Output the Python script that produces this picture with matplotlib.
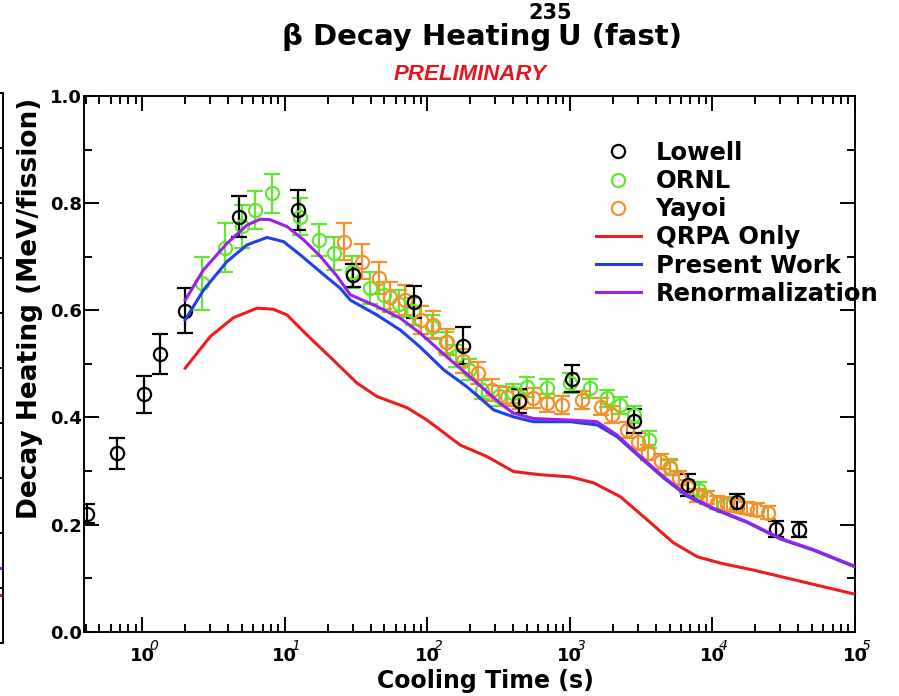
import matplotlib
matplotlib.use('Agg')
import matplotlib.pyplot as plt
from matplotlib.lines import Line2D
from matplotlib.ticker import FixedLocator, MultipleLocator, FormatStrFormatter, LogLocator, NullFormatter

plt.rcParams['font.family'] = ['DejaVu Sans']
plt.rcParams['font.weight'] = 'bold'

# Lowell measurements: cooling time (s), heating (MeV/fission), error
lowell_t = [0.41, 0.66, 1.03, 1.34, 2.0, 4.8, 12.4, 30, 80, 179, 442, 1042, 2836, 6790, 14960, 27700, 40200]
lowell_y = [0.220, 0.333, 0.443, 0.518, 0.599, 0.775, 0.787, 0.665, 0.615, 0.534, 0.431, 0.472, 0.393, 0.274, 0.243, 0.192, 0.190]
lowell_e = [0.018, 0.029, 0.035, 0.037, 0.042, 0.039, 0.038, 0.022, 0.030, 0.034, 0.022, 0.025, 0.023, 0.020, 0.014, 0.015, 0.014]

# ORNL measurements
ornl_t = [2.62, 3.78, 5.0, 6.21, 8.13, 12.8, 17.5, 22.3, 29.6, 39.8, 50, 63, 79, 108, 135, 160, 195,
          242, 320, 400, 501, 692, 1009, 1393, 1824, 2262, 2805, 3573, 5070, 8020, 12000]
ornl_y = [0.650, 0.717, 0.757, 0.787, 0.818, 0.775, 0.731, 0.706, 0.672, 0.641, 0.628, 0.612, 0.598, 0.569,
          0.540, 0.515, 0.489, 0.452, 0.440, 0.445, 0.457, 0.454, 0.464, 0.454, 0.436, 0.423, 0.405, 0.358,
          0.308, 0.265, 0.237]
ornl_e = [0.050, 0.045, 0.040, 0.036, 0.037, 0.035, 0.030, 0.030, 0.030, 0.030, 0.025, 0.025, 0.025, 0.022,
          0.020, 0.020, 0.020, 0.018, 0.018, 0.018, 0.018, 0.018, 0.018, 0.018, 0.016, 0.016, 0.016, 0.016,
          0.015, 0.014, 0.014]

# Yayoi measurements
yayoi_t = [25.9, 34.8, 45.5, 54.3, 70, 89.5, 110, 138, 179, 228, 286, 364, 450, 553, 695, 877, 1218, 1652,
           1982, 2513, 3018, 3544, 4322, 5074, 5870, 6650, 7760, 9150, 10750, 12700, 14900, 17600, 20600, 24400]
yayoi_y = [0.728, 0.691, 0.660, 0.625, 0.619, 0.582, 0.573, 0.541, 0.505, 0.483, 0.451, 0.439, 0.433, 0.436,
           0.427, 0.423, 0.433, 0.420, 0.405, 0.377, 0.355, 0.334, 0.318, 0.306, 0.287, 0.271, 0.255, 0.250,
           0.241, 0.238, 0.235, 0.231, 0.228, 0.222]
yayoi_e = [0.035, 0.032, 0.030, 0.028, 0.028, 0.026, 0.025, 0.024, 0.022, 0.020, 0.020, 0.018, 0.018, 0.018,
           0.017, 0.017, 0.017, 0.016, 0.016, 0.015, 0.015, 0.014, 0.014, 0.014, 0.013, 0.013, 0.012, 0.012,
           0.012, 0.012, 0.012, 0.012, 0.012, 0.012]

# calculations
qrpa_t = [2.0, 3.0, 4.35, 6.38, 8.3, 10.4, 14.3, 21.9, 32.1, 44.4, 72.1, 99.5, 171, 262, 402, 621, 1009,
          1462, 2259, 3483, 5321, 7816, 11380, 19410, 33420, 100000]
qrpa_y = [0.492, 0.551, 0.586, 0.604, 0.602, 0.591, 0.554, 0.507, 0.464, 0.439, 0.418, 0.395, 0.348, 0.327,
          0.299, 0.293, 0.289, 0.278, 0.252, 0.209, 0.166, 0.140, 0.128, 0.115, 0.100, 0.070]

present_t = [2.0, 2.69, 3.93, 5.43, 7.50, 9.82, 12.9, 17.7, 24.5, 28.8, 44.4, 64.7, 89.3, 130, 190, 292, 402,
             555, 1009, 1552, 2143, 3126, 4550, 6653, 10210, 17540, 29990, 51400, 100000]
present_y = [0.582, 0.638, 0.691, 0.722, 0.736, 0.728, 0.703, 0.672, 0.641, 0.619, 0.591, 0.563, 0.531, 0.489,
             0.457, 0.414, 0.401, 0.392, 0.392, 0.386, 0.364, 0.325, 0.287, 0.253, 0.229, 0.204, 0.173, 0.152,
             0.121]

renorm_t = [2.0, 2.68, 3.93, 5.43, 6.73, 7.91, 10.4, 13.6, 17.7, 23.2, 28.8, 44.4, 64.7, 89.3, 137, 211, 325,
            402, 555, 1009, 1549, 2143, 3126, 4550, 6653, 10210, 17540, 29990, 51400, 100000]
renorm_y = [0.619, 0.675, 0.725, 0.759, 0.770, 0.769, 0.756, 0.731, 0.701, 0.664, 0.629, 0.607, 0.585, 0.557,
            0.513, 0.470, 0.426, 0.408, 0.398, 0.395, 0.392, 0.367, 0.327, 0.289, 0.255, 0.230, 0.205, 0.174,
            0.153, 0.122]

# edge of the neighbouring panel
side_x = [0.0, 1.0]
side_renorm = [0.137, 0.137]
side_qrpa = [0.088, 0.088]

c_lowell = 'black'
c_ornl = '#62e630'
c_yayoi = '#f5902a'
c_qrpa = '#ee1c1c'
c_present = '#2040e8'
c_renorm = '#9a22e8'

W, H = 899, 696
fig = plt.figure(figsize=(W / 100, H / 100), dpi=100)

# neighbouring panel, mostly off the page
ax0 = fig.add_axes([-0.3, 1 - 643 / H, 0.3 + 2.5 / W, (643 - 93) / H])
ax0.plot(side_x, side_renorm, color=c_renorm, lw=2.2)
ax0.plot(side_x, side_qrpa, color=c_qrpa, lw=2.2)
ax0.set_xlim(0, 1)
ax0.set_ylim(0, 1)
ax0.yaxis.set_major_locator(MultipleLocator(0.1))
ax0.tick_params(left=False, right=True, bottom=False, labelleft=False, labelbottom=False,
                direction='in', length=5, width=1.4)
for s in ax0.spines.values():
    s.set_linewidth(1.4)

ax = fig.add_axes([84 / W, 1 - 631.7 / H, (855 - 84) / W, (631.7 - 96) / H])

eb = dict(fmt='o', mfc='none', ms=9.5, mew=1.6, elinewidth=1.6, capsize=6, capthick=1.6)
ax.errorbar(ornl_t, ornl_y, yerr=ornl_e, mec=c_ornl, ecolor=c_ornl, **eb)
ax.errorbar(yayoi_t, yayoi_y, yerr=yayoi_e, mec=c_yayoi, ecolor=c_yayoi, **eb)
ax.errorbar(lowell_t, lowell_y, yerr=lowell_e, mec=c_lowell, ecolor=c_lowell, **eb)

ax.plot(qrpa_t, qrpa_y, color=c_qrpa, lw=2.2, zorder=4)
ax.plot(present_t, present_y, color=c_present, lw=2.2, zorder=4)
ax.plot(renorm_t, renorm_y, color=c_renorm, lw=2.2, zorder=5)

ax.set_xscale('log')
ax.set_xlim(0.39, 1e5)
ax.set_ylim(0, 1.0)

decades = [1, 10, 100, 1000, 10000, 100000]
ax.xaxis.set_major_locator(FixedLocator(decades))
ax.set_xticklabels(['10'] * len(decades))
ax.xaxis.set_minor_locator(LogLocator(base=10, subs=range(2, 10), numticks=20))
ax.xaxis.set_minor_formatter(NullFormatter())
ax.yaxis.set_major_locator(MultipleLocator(0.2))
ax.yaxis.set_minor_locator(MultipleLocator(0.1))
ax.yaxis.set_major_formatter(FormatStrFormatter('%.1f'))

ax.tick_params(which='both', direction='in', top=True, right=True, width=1.4)
ax.tick_params(which='major', length=10.5, labelsize=13)
ax.tick_params(which='minor', length=5.5)
ax.tick_params(axis='x', which='major', pad=11)
ax.tick_params(axis='y', which='major', pad=1.5)
for s in ax.spines.values():
    s.set_linewidth(1.4)

# exponents sit over the end of each "10"
for k, d in enumerate(decades):
    ax.annotate(str(k), xy=(d, 0), xycoords=ax.get_xaxis_transform(),
                xytext=(8, -10), textcoords='offset points',
                ha='center', va='center', fontsize=10, fontweight='normal', style='italic')

handles = [
    Line2D([], [], ls='none', marker='o', mfc='none', mec=c_lowell, ms=9.5, mew=1.6),
    Line2D([], [], ls='none', marker='o', mfc='none', mec=c_ornl, ms=9.5, mew=1.6),
    Line2D([], [], ls='none', marker='o', mfc='none', mec=c_yayoi, ms=9.5, mew=1.6),
    Line2D([], [], color=c_qrpa, lw=2.2),
    Line2D([], [], color=c_present, lw=2.2),
    Line2D([], [], color=c_renorm, lw=2.2),
]
labels = ['Lowell', 'ORNL', 'Yayoi', 'QRPA Only', 'Present Work', 'Renormalization']
ax.legend(handles, labels, loc='upper left', bbox_to_anchor=(596 / W, 1 - 141 / H),
          bbox_transform=fig.transFigure, frameon=False, fontsize=17.5, labelspacing=0.17,
          handlelength=1.85, handletextpad=0.6, borderpad=0, borderaxespad=0)

fig.text(551 / W, 1 - 45 / H, '\u03b2 Decay Heating', ha='right', va='baseline', fontsize=21)
fig.text(558 / W, 1 - 45 / H, 'U (fast)', ha='left', va='baseline', fontsize=21)
fig.text(550 / W, 1 - 3 / H, '235', ha='center', va='top', fontsize=15)
fig.text(470 / W, 1 - 80 / H, 'PRELIMINARY', ha='center', va='baseline', fontsize=16,
         family='Liberation Sans', style='italic', color='#e8141c')

fig.text(30 / W, 1 - 308 / H, 'Decay Heating (MeV/fission)', rotation=90, ha='center', va='center',
         fontsize=19)
fig.text(485 / W, 1 - 688 / H, 'Cooling Time (s)', ha='center', va='baseline', fontsize=17)

fig.savefig('out.png', dpi=100)
